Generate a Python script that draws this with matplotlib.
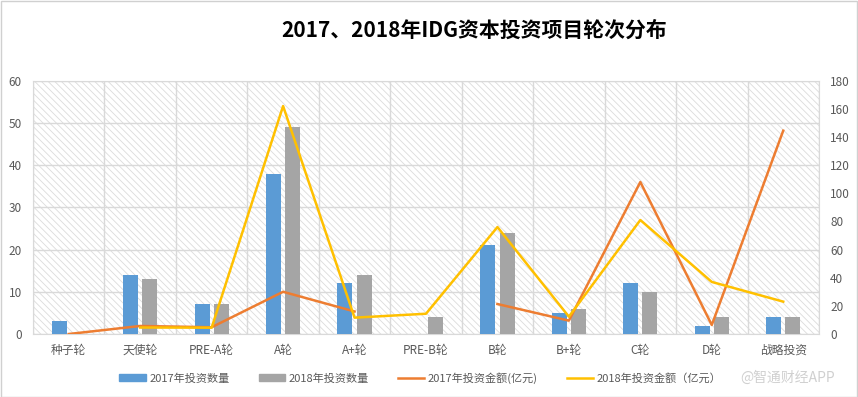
import numpy as np
import matplotlib
matplotlib.use('Agg')
import matplotlib.pyplot as plt
from matplotlib.patches import Patch
from matplotlib.lines import Line2D

plt.rcParams['font.family'] = ['Noto Sans CJK SC', 'DejaVu Sans']
plt.rcParams['hatch.color'] = '#dcdcdc'
plt.rcParams['hatch.linewidth'] = 0.6

# 数据
rounds = ['种子轮', '天使轮', 'PRE-A轮', 'A轮', 'A+轮', 'PRE-B轮', 'B轮', 'B+轮', 'C轮', 'D轮', '战略投资']
count_2017 = [3, 14, 7, 38, 12, 0, 21, 5, 12, 2, 4]
count_2018 = [0, 13, 7, 49, 14, 4, 24, 6, 10, 4, 4]
amount_2017 = [0, 5.7, 4.8, 30, 16, None, 21.3, 9.5, 108, 6.4, 144.5]
amount_2018 = [None, 4.6, 4.5, 162, 11.6, 14.4, 76, 12.3, 81, 37, 23]

blue = '#5B9BD5'
gray = '#A5A5A5'
orange = '#ED7D31'
yellow = '#FFC000'
tick_col = '#595959'
grid_col = '#D9D9D9'

x = np.arange(len(rounds))
a17 = np.array([np.nan if v is None else v for v in amount_2017], dtype=float)
a18 = np.array([np.nan if v is None else v for v in amount_2018], dtype=float)

fig = plt.figure(figsize=(8.58, 3.97), dpi=100)
ax = fig.add_axes([0.0385, 0.1587, 0.916, 0.638])

# 斜线底纹
ax.patch.set_facecolor('white')
ax.patch.set_hatch('\\\\\\\\\\')
ax.patch.set_edgecolor('#dcdcdc')
ax.patch.set_linewidth(0)

w = 0.21
off = 0.135
ax.bar(x - off, count_2017, width=w, color=blue, zorder=3)
ax.bar(x + off, count_2018, width=w, color=gray, zorder=3)

ax.set_xlim(-0.5, len(rounds) - 0.5)
ax.set_ylim(0, 60)
ax.set_yticks(np.arange(0, 61, 10))
ax.set_xticks(x)
ax.set_xticklabels(rounds)
ax.set_xticks(np.arange(-0.5, len(rounds), 1), minor=True)
ax.grid(axis='y', color=grid_col, linewidth=1, zorder=1)
ax.grid(axis='x', which='minor', color=grid_col, linewidth=1, zorder=1)
ax.tick_params(axis='both', which='both', length=0, colors=tick_col, labelsize=8.5)
ax.tick_params(axis='x', pad=7)
ax.tick_params(axis='y', pad=8)
for s in ax.spines.values():
    s.set_color(grid_col)

ax2 = ax.twinx()
ax2.plot(x, a17, color=orange, linewidth=1.8)
ax2.plot(x, a18, color=yellow, linewidth=1.8)
ax2.set_ylim(0, 180)
ax2.set_yticks(np.arange(0, 181, 20))
ax2.tick_params(axis='y', length=0, colors=tick_col, labelsize=8.5, pad=8)
for s in ax2.spines.values():
    s.set_visible(False)

fig.text(0.553, 0.925, '2017、2018年IDG资本投资项目轮次分布', ha='center', va='center',
         fontsize=15, fontweight='bold', color='black')

handles = [Patch(color=blue), Patch(color=gray),
           Line2D([], [], color=orange, linewidth=1.8),
           Line2D([], [], color=yellow, linewidth=1.8)]
labels = ['2017年投资数量', '2018年投资数量', '2017年投资金额(亿元)', '2018年投资金额（亿元）']
fig.legend(handles, labels, ncol=4, loc='center', bbox_to_anchor=(0.49, 0.048),
           frameon=False, fontsize=8, handlelength=2.4, handleheight=0.6,
           columnspacing=2.6, handletextpad=0.3, labelcolor=tick_col)

fig.text(0.863, 0.048, '@智通财经APP', ha='left', va='center', fontsize=10, color='#d0d0d0')

# 外框
fig.patches.append(plt.Rectangle((0.001, 0.001), 0.998, 0.997, transform=fig.transFigure,
                                 fill=False, edgecolor='#d0d0d0', linewidth=1))

fig.savefig('out.png', dpi=100)
